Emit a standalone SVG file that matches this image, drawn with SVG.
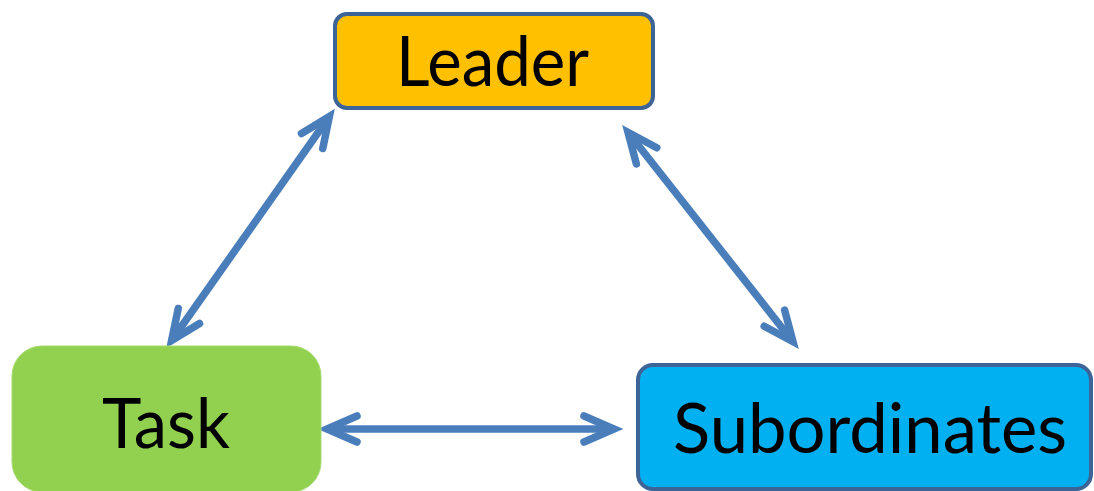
<svg xmlns="http://www.w3.org/2000/svg" width="1094" height="491" viewBox="0 0 1094 491">
  <style>
    .lbl { font-family: Lato, "Open Sans", "Liberation Sans", sans-serif; font-size: 69px; fill: #000; }
    .conn { stroke: #4A7EBB; stroke-width: 7.5; fill: none; }
  </style>
  <defs>
    <marker id="chev" markerUnits="userSpaceOnUse" viewBox="-40 -20 50 40" refX="0" refY="0" markerWidth="50" markerHeight="40" orient="auto-start-reverse" overflow="visible">
      <path d="M-30,-13 L0,0 L-30,13" fill="none" stroke="#4A7EBB" stroke-width="7.5" stroke-linecap="round" stroke-linejoin="miter" stroke-miterlimit="10"/>
    </marker>
  </defs>
  <rect width="1094" height="491" fill="#FFFFFF"/>
  <g id="connectors">
    <line class="conn" x1="171.6" y1="340.5" x2="329.4" y2="116.5" marker-start="url(#chev)" marker-end="url(#chev)"/>
    <line class="conn" x1="628" y1="132.3" x2="793" y2="341.7" marker-start="url(#chev)" marker-end="url(#chev)"/>
    <line class="conn" x1="327" y1="429" x2="614" y2="429" marker-start="url(#chev)" marker-end="url(#chev)"/>
  </g>
  <g id="leader">
    <rect x="335" y="14" width="318" height="94" rx="12" ry="12" fill="#FFC000" stroke="#3C6496" stroke-width="4"/>
    <text class="lbl" x="396" y="86" textLength="193" lengthAdjust="spacingAndGlyphs">Leader</text>
  </g>
  <g id="task">
    <rect x="12" y="346" width="309" height="146" rx="30" ry="30" fill="#92D050" stroke="#A6DA70" stroke-width="1"/>
    <text class="lbl" x="102" y="448" textLength="128" lengthAdjust="spacingAndGlyphs">Task</text>
  </g>
  <g id="subordinates">
    <rect x="638" y="365" width="453" height="124" rx="15" ry="15" fill="#00B0F0" stroke="#3C6496" stroke-width="4"/>
    <text class="lbl" x="673" y="453" textLength="394" lengthAdjust="spacingAndGlyphs">Subordinates</text>
  </g>
</svg>
